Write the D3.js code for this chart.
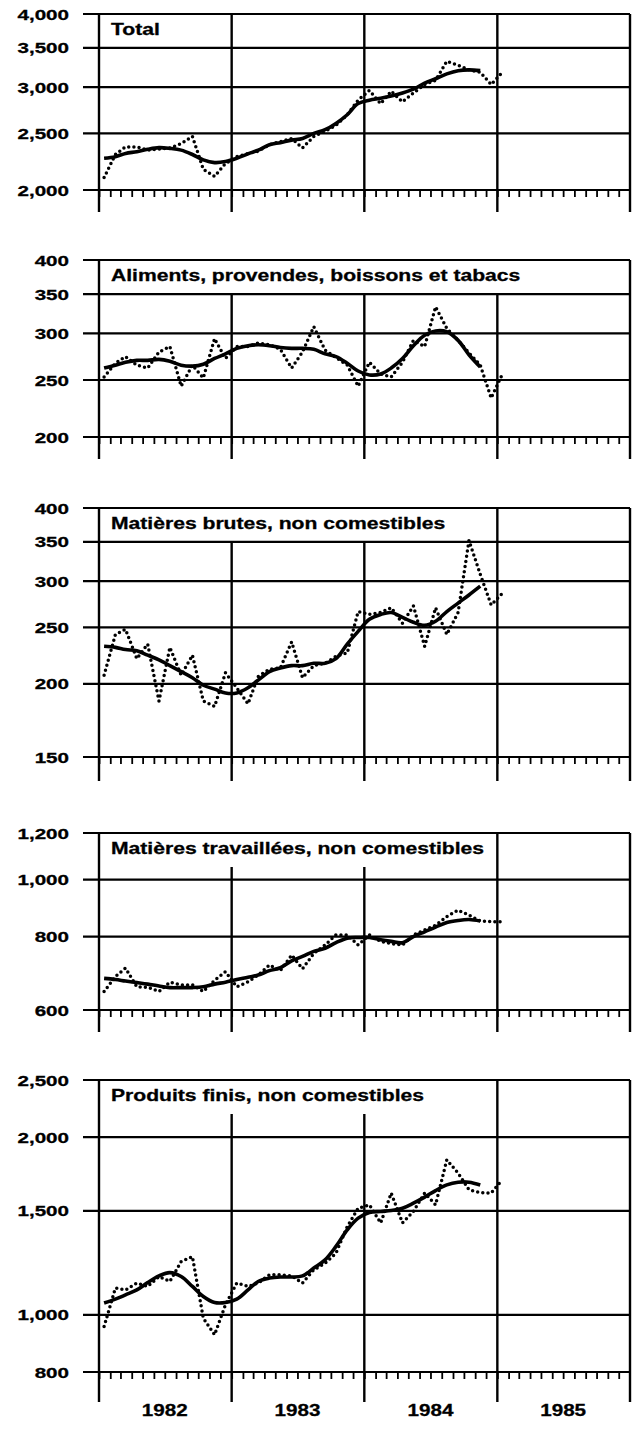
<!DOCTYPE html>
<html>
<head>
<meta charset="utf-8">
<script src="https://cdn.jsdelivr.net/npm/d3@7"></script>
<style>
  body { margin: 0; background: #fff; }
  svg { display: block; }
</style>
</head>
<body>
<div id="chart"></div>
<script>
// categories
const yearLabels = ['1982', '1983', '1984', '1985'];
const titles = [
  'Total',
  'Aliments, provendes, boissons et tabacs',
  'Matières brutes, non comestibles',
  'Matières travaillées, non comestibles',
  'Produits finis, non comestibles',
];

// tick labels (log scale)
const ticksTotal = [2000, 2500, 3000, 3500, 4000];
const ticksAliments = [200, 250, 300, 350, 400];
const ticksBrutes = [150, 200, 250, 300, 350, 400];
const ticksTravaillees = [600, 800, 1000, 1200];
const ticksFinis = [800, 1000, 1500, 2000, 2500];

// monthly values from Jan 1982 (raw = dotted, trend = solid)
const totalRaw = [2100, 2300, 2370, 2370, 2340, 2350, 2360, 2400, 2470, 2170, 2110, 2220,
  2280, 2310, 2330, 2390, 2420, 2450, 2360, 2470, 2520, 2580, 2690, 2850,
  2960, 2810, 2950, 2830, 2930, 3030, 3080, 3320, 3270, 3210, 3180, 3030, 3180];
const totalTrend = [2266, 2280, 2310, 2326, 2348, 2363, 2356, 2340, 2300, 2252, 2228, 2237,
  2266, 2306, 2340, 2390, 2410, 2434, 2450, 2500, 2536, 2600, 2690, 2811,
  2849, 2870, 2895, 2930, 2975, 3046, 3100, 3160, 3200, 3210, 3200];

const alimentsRaw = [253, 267, 274, 265, 262, 279, 285, 244, 265, 252, 294, 272,
  285, 285, 289, 287, 282, 262, 279, 308, 281, 273, 265, 244,
  268, 256, 253, 268, 292, 285, 333, 306, 292, 278, 265, 233, 256];
const alimentsTrend = [262, 265, 268, 270, 270, 271, 269, 265, 264, 266, 272, 277,
  283, 286, 287, 286, 284, 283, 283, 282, 277, 274, 267, 259,
  255, 256, 262, 272, 286, 298, 303, 302, 292, 276, 263];

const brutesRaw = [207, 243, 248, 221, 234, 187, 231, 207, 224, 187, 183, 209,
  197, 185, 206, 212, 213, 236, 205, 215, 217, 223, 226, 266,
  263, 265, 270, 254, 272, 232, 270, 243, 265, 352, 308, 273, 286];
const brutesTrend = [232, 231, 229, 228, 224, 220, 215, 210, 205, 199, 196, 193,
  193, 197, 203, 210, 213, 215, 215, 217, 217, 221, 234, 246,
  258, 263, 265, 260, 255, 252, 256, 266, 275, 284, 294];

const travailleesRaw = [645, 684, 707, 657, 656, 645, 669, 662, 662, 645, 674, 697,
  657, 670, 688, 716, 700, 744, 705, 749, 774, 805, 805, 774,
  805, 785, 778, 774, 805, 821, 836, 865, 887, 870, 850, 848, 848];
const travailleesTrend = [679, 676, 672, 668, 664, 659, 655, 655, 655, 657, 664, 669,
  676, 682, 688, 700, 708, 727, 740, 755, 764, 781, 795, 797,
  797, 790, 785, 781, 800, 815, 830, 845, 852, 855, 850];

const finisRaw = [955, 1110, 1102, 1132, 1117, 1161, 1139, 1231, 1255, 987, 925, 1040,
  1132, 1117, 1132, 1169, 1169, 1164, 1132, 1192, 1223, 1272, 1411, 1516,
  1536, 1431, 1608, 1431, 1497, 1608, 1536, 1831, 1738, 1629, 1611, 1608, 1694];
const finisTrend = [1047, 1063, 1081, 1102, 1134, 1164, 1179, 1161, 1117, 1074, 1049, 1049,
  1063, 1102, 1139, 1154, 1159, 1159, 1164, 1200, 1239, 1306, 1393, 1458,
  1491, 1497, 1502, 1516, 1546, 1583, 1624, 1660, 1678, 1678, 1660];

// layout
const width = 639;
const height = 1431;
const left = 99;
const right = 630;
const panels = [
  { title: titles[0], raw: totalRaw, trend: totalTrend, ticks: ticksTotal, top: 14, bottom: 190, span: 1, tail: 22 },
  { title: titles[1], raw: alimentsRaw, trend: alimentsTrend, ticks: ticksAliments, top: 260, bottom: 437, span: 4, tail: 22 },
  { title: titles[2], raw: brutesRaw, trend: brutesTrend, ticks: ticksBrutes, top: 508, bottom: 757, span: 3, tail: 24 },
  { title: titles[3], raw: travailleesRaw, trend: travailleesTrend, ticks: ticksTravaillees, top: 833, bottom: 1010, span: 3, tail: 22 },
  { title: titles[4], raw: finisRaw, trend: finisTrend, ticks: ticksFinis, top: 1080, bottom: 1372, span: 3, tail: 30 },
];

const font = "'Liberation Sans', Arial, Helvetica, sans-serif";
const start = new Date(Date.UTC(1982, 0, 1));
const end = new Date(Date.UTC(1986, 0, 1));
const x = d3.scaleUtc().domain([start, end]).range([left, right]);
const mid = (i) => new Date(Date.UTC(1982, i, 15));
const yearStarts = d3.utcYear.range(start, end); // 1982..1985
const months = d3.utcMonth.range(start, end);

const svg = d3.select('#chart')
  .append('svg')
  .attr('width', width)
  .attr('height', height)
  .attr('viewBox', [0, 0, width, height])
  .style('background', '#fff');

function label(g, text, px, py, size, sx, anchor) {
  return g.append('text')
    .attr('transform', `translate(${px},${py}) scale(${sx},1)`)
    .attr('text-anchor', anchor)
    .attr('font-family', font)
    .attr('font-weight', 'bold')
    .attr('font-size', size)
    .attr('fill', '#000')
    .attr('stroke', '#000')
    .attr('stroke-width', 0.3)
    .text(text);
}

panels.forEach((p) => {
  const y = d3.scaleLog().domain(d3.extent(p.ticks)).range([p.bottom, p.top]);
  const g = svg.append('g');

  // horizontal grid lines
  g.append('g')
    .selectAll('line')
    .data(p.ticks)
    .join('line')
    .attr('x1', 83)
    .attr('x2', right)
    .attr('y1', (d) => y(d))
    .attr('y2', (d) => y(d))
    .attr('stroke', '#000')
    .attr('stroke-width', 2.2);

  // y labels
  p.ticks.forEach((t) => {
    label(g, d3.format(',')(t), 69, y(t) + 5.5, 15.5, 1.33, 'end');
  });

  // month ticks
  const axis = g.append('g')
    .attr('transform', `translate(0,${p.bottom})`)
    .call(d3.axisBottom(x).tickValues(months).tickSize(7).tickFormat(''));
  axis.select('.domain').remove();
  axis.selectAll('.tick line').attr('stroke', '#000').attr('stroke-width', 1.8);

  // frame: left and right edges
  [left, right].forEach((vx) => {
    g.append('line')
      .attr('x1', vx).attr('x2', vx)
      .attr('y1', p.top).attr('y2', p.bottom + p.tail)
      .attr('stroke', '#000').attr('stroke-width', 2.4);
  });

  // year dividers, broken by the title box
  yearStarts.slice(1).forEach((d, k) => {
    const top = k + 1 < p.span ? p.top + 34 : p.top;
    g.append('line')
      .attr('x1', x(d)).attr('x2', x(d))
      .attr('y1', top).attr('y2', p.bottom + p.tail)
      .attr('stroke', '#000').attr('stroke-width', 2.4);
  });

  // title
  label(g, p.title, left + 12, p.top + 21, 16.5, 1.28, 'start');

  // raw series, dotted
  g.append('path')
    .datum(p.raw)
    .attr('fill', 'none')
    .attr('stroke', '#000')
    .attr('stroke-width', 3.5)
    .attr('stroke-linecap', 'round')
    .attr('stroke-dasharray', '0 5.2')
    .attr('d', d3.line().x((d, i) => x(mid(i))).y((d) => y(d)));

  // trend, solid
  g.append('path')
    .datum(p.trend)
    .attr('fill', 'none')
    .attr('stroke', '#000')
    .attr('stroke-width', 3.6)
    .attr('stroke-linejoin', 'round')
    .attr('d', d3.line().curve(d3.curveCatmullRom.alpha(0.5)).x((d, i) => x(mid(i))).y((d) => y(d)));
});

// year labels
yearLabels.forEach((yr, i) => {
  label(svg, yr, x(new Date(Date.UTC(1982 + i, 6, 1))), 1416, 16.5, 1.25, 'middle');
});
</script>
</body>
</html>
